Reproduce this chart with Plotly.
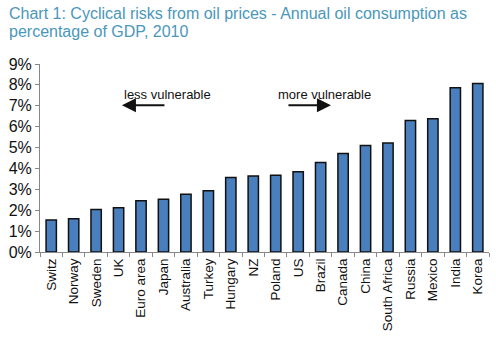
import plotly.graph_objects as go

countries = ["Switz", "Norway", "Sweden", "UK", "Euro area", "Japan", "Australia",
             "Turkey", "Hungary", "NZ", "Poland", "US", "Brazil", "Canada", "China",
             "South Africa", "Russia", "Mexico", "India", "Korea"]
oil_share_pct = [1.53, 1.59, 2.04, 2.12, 2.45, 2.52, 2.76, 2.93, 3.57, 3.64,
                 3.68, 3.84, 4.29, 4.72, 5.10, 5.22, 6.30, 6.38, 7.86, 8.07]
y_ticks = [0, 1, 2, 3, 4, 5, 6, 7, 8, 9]
y_tick_text = [f"{v}%" for v in y_ticks]
title_lines = ["Chart 1: Cyclical risks from oil prices - Annual oil consumption as",
               "percentage of GDP, 2010"]

FONT = "Liberation Sans, Arial, sans-serif"
W, H = 496, 340
M_L, M_R, M_T, M_B = 40, 7, 64, 88
PLOT_H = H - M_T - M_B
PLOT_W = W - M_L - M_R


def paper_x(px):
    return (px - M_L) / PLOT_W


def paper_y(py):
    return (H - M_B - py) / PLOT_H


fig = go.Figure(go.Bar(
    x=countries,
    y=oil_share_pct,
    width=0.46,
    marker=dict(color="#4a7fbd", line=dict(color="#111111", width=1.5)),
))

# two-line heading
for i, line in enumerate(title_lines):
    fig.add_annotation(text=line, xref="paper", yref="paper",
                       x=paper_x(7), y=paper_y(13 + 18 * i),
                       xanchor="left", yanchor="middle", showarrow=False,
                       font=dict(family=FONT, size=16, color="#4a97ba"))

# direction labels and arrows
fig.add_annotation(text="less vulnerable", xref="paper", yref="paper",
                   x=paper_x(122), y=paper_y(85), showarrow=False,
                   font=dict(size=13, color="#111111", family=FONT))
fig.add_annotation(text="more vulnerable", xref="paper", yref="paper",
                   x=paper_x(324.5), y=paper_y(85), showarrow=False,
                   font=dict(size=13, color="#111111", family=FONT))
fig.add_annotation(x=3.15, y=7.03, ax=5.11, ay=7.03, xref="x", yref="y", axref="x", ayref="y",
                   text="", showarrow=True, arrowhead=2, arrowsize=1.4, arrowwidth=2,
                   arrowcolor="#111111")
fig.add_annotation(x=12.46, y=7.03, ax=10.5, ay=7.03, xref="x", yref="y", axref="x", ayref="y",
                   text="", showarrow=True, arrowhead=2, arrowsize=1.4, arrowwidth=2,
                   arrowcolor="#111111")

fig.update_layout(
    width=W, height=H,
    margin=dict(l=M_L, r=M_R, t=M_T, b=M_B),
    paper_bgcolor="white", plot_bgcolor="white",
    showlegend=False,
    xaxis=dict(
        type="category",
        tickangle=-90,
        tickfont=dict(family=FONT, size=13.5, color="#111111"),
        showline=True, linecolor="#888888", linewidth=1,
        ticks="outside", ticklen=4, tickcolor="#888888", tickson="boundaries",
        showgrid=False,
    ),
    yaxis=dict(
        range=[0, 9],
        tickvals=y_ticks, ticktext=y_tick_text,
        tickfont=dict(family=FONT, size=16, color="#111111"),
        showline=True, linecolor="#888888", linewidth=1,
        ticks="outside", ticklen=4, tickcolor="#888888",
        showgrid=False, zeroline=False,
    ),
)

fig.write_html("out.html")
